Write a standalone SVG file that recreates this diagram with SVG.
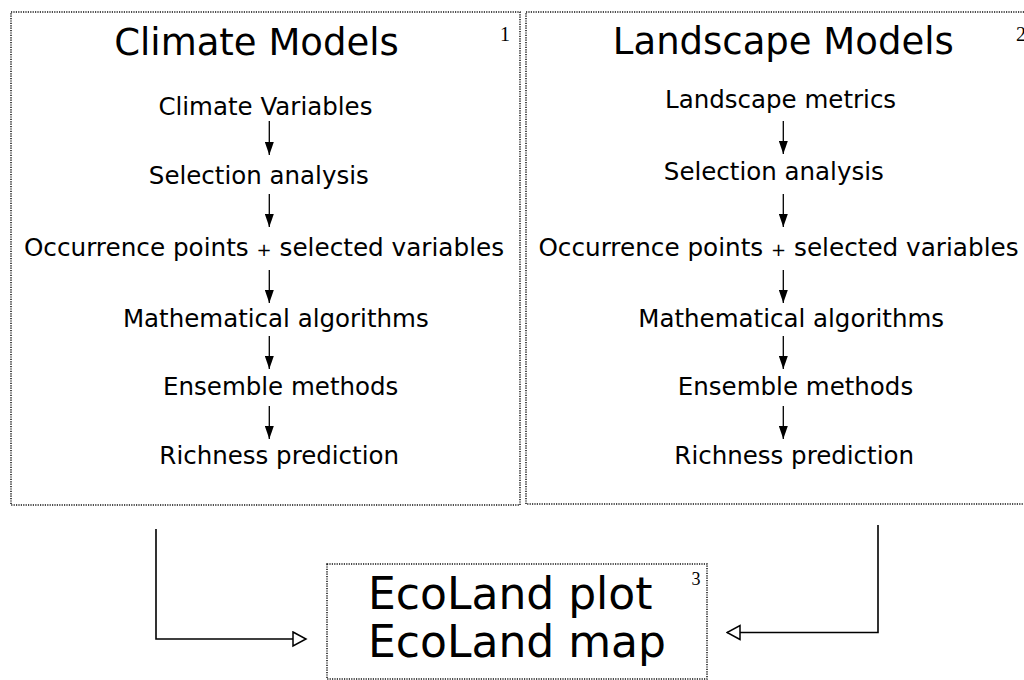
<svg xmlns="http://www.w3.org/2000/svg" width="1024" height="680" viewBox="0 0 1024 680">
<style>
.box{fill:none;stroke:#111;stroke-width:1.5;stroke-dasharray:1.2 1.2}
.title{font-family:"DejaVu Sans",sans-serif;font-size:37px;fill:#000;text-anchor:middle}
.step{font-family:"DejaVu Sans",sans-serif;font-size:24.5px;fill:#000;text-anchor:middle}
.wide{font-size:24.7px}
.plus{font-size:18px}
.big{font-family:"DejaVu Sans",sans-serif;font-size:44px;fill:#000}
.num{font-family:"Liberation Serif",serif;fill:#000}
.flow{stroke:#000;stroke-width:1.3;fill:none;marker-end:url(#fa)}
.conn{stroke:#000;stroke-width:1.6;fill:none;marker-end:url(#oa)}
</style>
<defs>
<marker id="fa" markerUnits="userSpaceOnUse" viewBox="0 0 13 9" markerWidth="13" markerHeight="9" refX="13" refY="4.5" orient="auto">
<path d="M0,0 L13,4.5 L0,9 z" fill="#000"/>
</marker>
<marker id="oa" markerUnits="userSpaceOnUse" viewBox="-1 -1 16 17" markerWidth="16" markerHeight="17" refX="13.5" refY="7.5" orient="auto">
<path d="M0.5,0.5 L13.5,7.5 L0.5,14.5 z" fill="#fff" stroke="#000" stroke-width="1.5"/>
</marker>
</defs>
<rect width="1024" height="680" fill="#fff"/>
<g id="climate-models">
<rect class="box" x="11" y="12" width="509" height="493"/>
<text class="title" x="256.5" y="54.5">Climate Models</text>
<text class="num" x="505" y="40.5" font-size="20" text-anchor="middle">1</text>
<text class="step" x="265.4" y="114.5">Climate Variables</text>
<text class="step" x="258.8" y="184">Selection analysis</text>
<text class="step wide" x="264" y="256">Occurrence points <tspan class="plus">+</tspan> selected variables</text>
<text class="step" x="275.8" y="327">Mathematical algorithms</text>
<text class="step" x="280.7" y="395">Ensemble methods</text>
<text class="step" x="279.2" y="464">Richness prediction</text>
</g>
<g id="landscape-models">
<rect class="box" x="526" y="12" width="510" height="492"/>
<text class="title" x="783.3" y="54">Landscape Models</text>
<text class="num" x="1016" y="40.5" font-size="20">2</text>
<text class="step" x="780.6" y="108">Landscape metrics</text>
<text class="step" x="773.8" y="180">Selection analysis</text>
<text class="step wide" x="778.5" y="256">Occurrence points <tspan class="plus">+</tspan> selected variables</text>
<text class="step" x="791.2" y="327">Mathematical algorithms</text>
<text class="step" x="795.5" y="395">Ensemble methods</text>
<text class="step" x="794.2" y="464">Richness prediction</text>
</g>
<g id="ecoland">
<rect class="box" x="327" y="564" width="380" height="115"/>
<text class="big" x="368" y="609">EcoLand plot</text>
<text class="big" x="368" y="657">EcoLand map</text>
<text class="num" x="696" y="585" font-size="18" text-anchor="middle">3</text>
</g>
<g id="connectors">
<line class="flow" x1="269.3" y1="121" x2="269.3" y2="155"/>
<line class="flow" x1="269.3" y1="194" x2="269.3" y2="227"/>
<line class="flow" x1="269.3" y1="270" x2="269.3" y2="303"/>
<line class="flow" x1="269.3" y1="336" x2="269.3" y2="369"/>
<line class="flow" x1="269.3" y1="406" x2="269.3" y2="439"/>
<line class="flow" x1="783.3" y1="121" x2="783.3" y2="154"/>
<line class="flow" x1="783.3" y1="194" x2="783.3" y2="227"/>
<line class="flow" x1="783.3" y1="270" x2="783.3" y2="303"/>
<line class="flow" x1="783.3" y1="336" x2="783.3" y2="369"/>
<line class="flow" x1="783.3" y1="406" x2="783.3" y2="439"/>
<path class="conn" d="M156,529 V639 H306"/>
<path class="conn" d="M878,525 V632.5 H727"/>
</g>
</svg>
